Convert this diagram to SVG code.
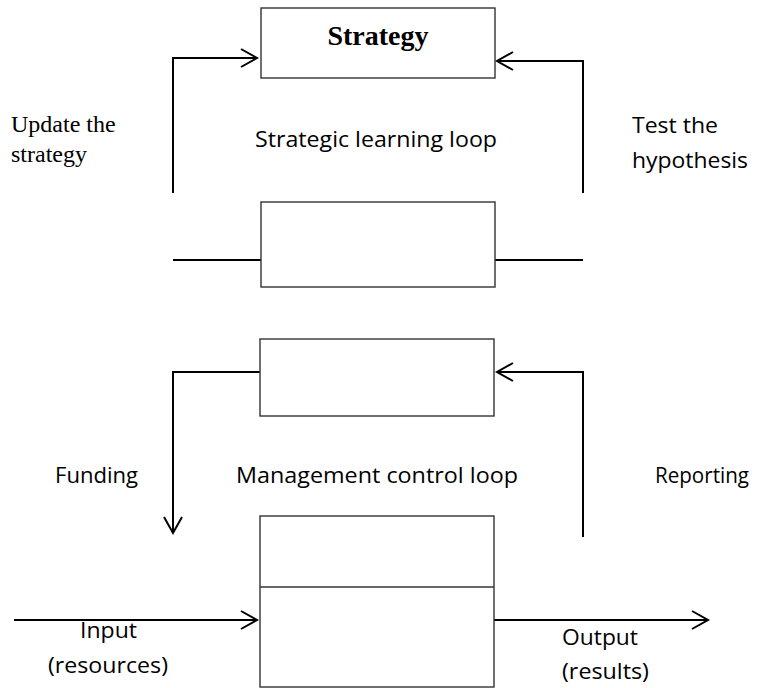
<svg xmlns="http://www.w3.org/2000/svg" width="761" height="688" viewBox="0 0 761 688">
<defs>
<style>
.box{fill:#fff;stroke:#333;stroke-width:1.4}
.con{fill:none;stroke:#000;stroke-width:2}
.sans{font-family:"Open Sans","Noto Sans","Liberation Sans",sans-serif;font-size:22px;fill:#000}
.serif{font-family:"Liberation Serif","Times New Roman",serif;fill:#000}
</style>
<marker id="arr" markerUnits="userSpaceOnUse" markerWidth="24" markerHeight="24" viewBox="-20 -12 24 24" refX="0" refY="0" orient="auto">
<path d="M-16,-9 L0,0 L-16,9" fill="none" stroke="#000" stroke-width="2"/>
</marker>
</defs>
<rect width="761" height="688" fill="#fff"/>
<g id="connectors">
<path class="con" d="M173,193 V58 H257" marker-end="url(#arr)"/>
<path class="con" d="M583,193 V61 H497" marker-end="url(#arr)"/>
<path class="con" d="M173,260 H261"/>
<path class="con" d="M495,260 H583"/>
<path class="con" d="M260,372 H173 V533" marker-end="url(#arr)"/>
<path class="con" d="M583,537 V372 H497" marker-end="url(#arr)"/>
<path class="con" d="M14,620 H257" marker-end="url(#arr)"/>
<path class="con" d="M494,620 H708" marker-end="url(#arr)"/>
</g>
<g id="strategy">
<rect class="box" x="261" y="8" width="234" height="70"/>
<text class="serif" x="378" y="45" font-size="28" font-weight="bold" text-anchor="middle">Strategy</text>
</g>
<g id="strategic-box">
<rect class="box" x="261" y="202" width="234" height="85"/>
</g>
<g id="management-box">
<rect class="box" x="260" y="339" width="234" height="77"/>
</g>
<g id="operations">
<rect class="box" x="260" y="516" width="234" height="171"/>
<line class="box" x1="260" y1="587" x2="494" y2="587"/>
</g>
<g id="labels">
<text class="serif" font-size="24"><tspan x="11" y="132">Update the</tspan><tspan x="11" y="162">strategy</tspan></text>
<text class="sans" x="255" y="147" textLength="242" lengthAdjust="spacingAndGlyphs">Strategic learning loop</text>
<text class="sans" x="632" y="133" textLength="86" lengthAdjust="spacingAndGlyphs">Test the</text>
<text class="sans" x="632" y="168" textLength="116" lengthAdjust="spacingAndGlyphs">hypothesis</text>
<text class="sans" x="55" y="483" textLength="83" lengthAdjust="spacingAndGlyphs">Funding</text>
<text class="sans" x="236" y="483" textLength="282" lengthAdjust="spacingAndGlyphs">Management control loop</text>
<text class="sans" x="655" y="483" textLength="94" lengthAdjust="spacingAndGlyphs">Reporting</text>
<text class="sans" x="80" y="638" textLength="57" lengthAdjust="spacingAndGlyphs">Input</text>
<text class="sans" x="48" y="673" textLength="120" lengthAdjust="spacingAndGlyphs">(resources)</text>
<text class="sans" x="562" y="645" textLength="76" lengthAdjust="spacingAndGlyphs">Output</text>
<text class="sans" x="562" y="679" textLength="87" lengthAdjust="spacingAndGlyphs">(results)</text>
</g>
</svg>
